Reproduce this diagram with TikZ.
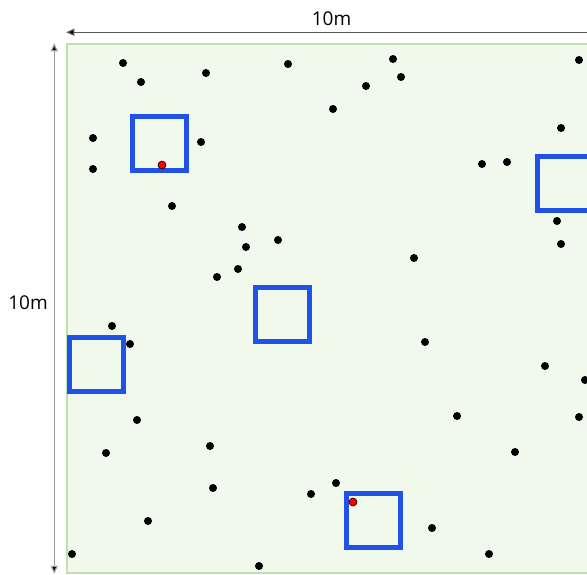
\documentclass[tikz,border=0pt]{standalone}
\usepackage{fontspec}
\setmainfont{Open Sans}
\usepackage{tikz}
\usetikzlibrary{arrows.meta, positioning, calc}
\definecolor{plotgreen}{RGB}{241,248,236}
\definecolor{plotedge}{RGB}{190,225,175}
\definecolor{quadblue}{RGB}{32,82,232}

\begin{document}
\begin{tikzpicture}[
    x=1pt, y=-1pt,
    field/.style={rectangle, draw=plotedge, fill=plotgreen, line width=1.5pt, minimum width=529pt, minimum height=529pt, inner sep=0pt},
    quad/.style={rectangle, draw=quadblue, line width=5pt, minimum size=54pt, inner sep=0pt},
    tree/.style={circle, fill=black, minimum size=8pt, inner sep=0pt},
    hit/.style={circle, fill=red, draw=black, line width=0.6pt, minimum size=8pt, inner sep=0pt},
    dimline/.style={{Triangle[length=8pt,width=7pt,fill=black]}-{Triangle[length=8pt,width=7pt,fill=black]}, line width=1.2pt},
    dimlabel/.style={font=\fontsize{19}{21}\selectfont},
]
\clip (0,0) rectangle (587,574);

% 10m x 10m plot
\node[field] (plot) at (331.5,308.5) {};

% dimension arrows
\coordinate (hl) at ($(plot.north west)+(0,-11)$);
\coordinate (hr) at ($(plot.north east)+(0,-11)$);
\coordinate (vt) at ($(plot.north west)+(-12,0)$);
\coordinate (vb) at ($(plot.south west)+(-12,0)$);
\draw[dimline, draw=black!65] (hl) -- (hr);
\draw[dimline, draw=black!40] (vt) -- (vb);
\node[dimlabel, above=3pt of $(hl)!0.5!(hr)$] (wlabel) {10m};
\node[dimlabel, left=3pt of $(vt)!0.5!(vb)$, yshift=6pt] (hlabel) {10m};

% trees
\foreach \x/\y [count=\i] in {
    123/63, 141/82, 206/73, 288/64, 393/59, 401/77, 366/86, 333/109, 579/60,
    93/138, 201/142, 93/169, 561/128, 482/164, 507/162, 172/206,
    242/227, 278/240, 246/247, 557/221, 561/244, 414/258, 238/269, 217/277,
    112/326, 130/344, 425/342, 545/366, 585/380, 137/420, 457/416, 579/417,
    210/446, 106/453, 515/452, 213/488, 336/483, 311/494, 148/521, 432/528,
    72/554, 489/554, 259/566} {
  \node[tree] (t\i) at (\x,\y) {};
}

% sample quadrats
\node[quad] (q1) at (159,143) {};
\node[quad] (q2) at (564,183) {};
\node[quad] (q3) at (282,314) {};
\node[quad] (q4) at (96,364) {};
\node[quad] (q5) at (373,520) {};

% trees inside quadrats
\node[hit] (h1) at (162,165) {};
\node[hit] (h2) at (353,502) {};

\end{tikzpicture}
\end{document}
